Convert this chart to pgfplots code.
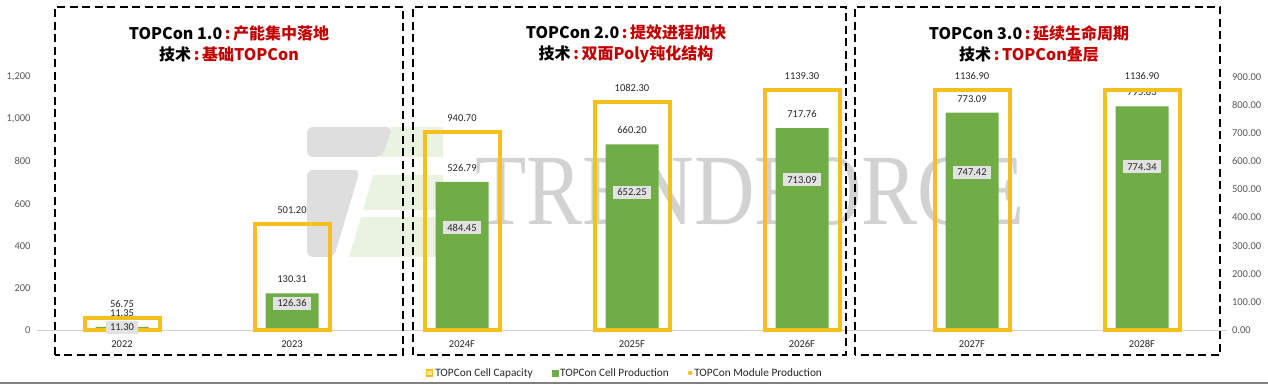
\documentclass[border=0pt]{standalone}
\usepackage{fontspec}
\setmainfont{Carlito}
\newfontfamily\cjk{Noto Sans CJK SC}
\newfontfamily\wmfont{Liberation Serif}
\usepackage{pgfplots}
\pgfplotsset{compat=1.18}
\definecolor{capY}{RGB}{245,192,30}
\definecolor{prodG}{RGB}{112,173,71}
\definecolor{lblGray}{RGB}{226,226,226}
\definecolor{tRed}{RGB}{192,0,0}
\definecolor{tickC}{RGB}{89,89,89}
\definecolor{wm}{RGB}{210,210,210}
\definecolor{wmL}{RGB}{222,222,222}
\definecolor{wmG}{RGB}{234,242,226}
\definecolor{txt}{RGB}{38,38,38}

\begin{document}
\begin{tikzpicture}[x=1pt,y=1pt]
\useasboundingbox (0,0) rectangle (1268,385);
% watermark logo
\fill[wmG] (390,258) -- (443,258) -- (443,228) -- (380,228) -- cycle;
\fill[wmL, rounded corners=6pt] (307,258) -- (392,258) -- (382,228) -- (307,228) -- cycle;
\fill[wmL, rounded corners=6pt] (307,215) -- (360,215) -- (334,128) -- (307,128) -- cycle;
\fill[wmG] (373,210) -- (443,210) -- (443,175) -- (363,175) -- cycle;
\fill[wmG] (361,168) -- (443,168) -- (443,128) -- (349,128) -- cycle;
% watermark text
\node[text=wm, font=\wmfont\fontsize{101}{101}\selectfont, xscale=0.83, anchor=center] at (750,193) {TRENDFORCE};

% right axis: cell production
\begin{axis}[
  at={(37pt,55pt)}, anchor=south west, scale only axis,
  width=1190pt, height=253pt,
  xmin=-0.5, xmax=6.5, ymin=0, ymax=900,
  clip=false,
  axis line style={draw=none},
  major tick length=0pt,
  xtick=\empty,
  ytick={0,100,...,900},
  ytick pos=right,
  yticklabel pos=right,
  yticklabel style={font=\fontsize{10.5}{12}\selectfont, text=tickC, xshift=1.5pt,
    /pgf/number format/.cd, fixed, fixed zerofill, precision=2, 1000 sep={}, assume math mode=true},
]
\draw[gray!35, line width=0.8pt] (axis cs:-0.5,0) -- (axis cs:6.5,0);
\addplot[ybar, bar width=53pt, bar shift=0pt, fill=prodG, draw=none,
  nodes near coords={\pgfmathprintnumber[fixed,fixed zerofill,precision=2,1000 sep={},assume math mode=true]{\pgfplotspointmeta}},
  every node near coord/.append style={font=\fontsize{10.5}{12}\selectfont, text=txt, anchor=center, yshift=14pt}]
  coordinates {(0,11.35) (1,130.31) (2,526.79) (3,660.20) (4,717.76) (5,773.09) (6,795.83)};
\end{axis}

% left axis: cell capacity, module production
\begin{axis}[
  at={(37pt,55pt)}, anchor=south west, scale only axis,
  width=1190pt, height=253pt,
  xmin=-0.5, xmax=6.5, ymin=0, ymax=1200,
  clip=false,
  axis line style={draw=none},
  major tick length=0pt,
  xtick={0,...,6},
  xticklabels={2022,2023,2024F,2025F,2026F,2027F,2028F},
  xtick pos=bottom,
  xticklabel style={font=\fontsize{10.5}{12}\selectfont, text=txt, yshift=-7pt},
  ytick={0,200,...,1200},
  ytick pos=left,
  yticklabel style={font=\fontsize{10.5}{12}\selectfont, text=tickC, xshift=-3pt,
    /pgf/number format/.cd, 1000 sep={,}, assume math mode=true},
  legend style={at={(0.494,-0.17)}, anchor=center, draw=none, fill=none,
    font=\fontsize{11.3}{13}\selectfont, text=txt,
    /tikz/every even column/.append style={column sep=17pt}},
  legend columns=3,
  legend cell align=left,
]
\addplot[ybar, bar width=75pt, bar shift=0pt, draw=capY, line width=4pt, fill=none,
  legend image code/.code={\draw[capY, fill=capY!45, line width=1.5pt] (0pt,-3pt) rectangle (6pt,3pt);},
  nodes near coords={\pgfmathprintnumber[fixed,fixed zerofill,precision=2,1000 sep={},assume math mode=true]{\pgfplotspointmeta}},
  every node near coord/.append style={font=\fontsize{10.5}{12}\selectfont, text=txt, anchor=center, yshift=14pt}]
  coordinates {(0,56.75) (1,501.20) (2,940.70) (3,1082.30) (4,1139.30) (5,1136.90) (6,1136.90)};
\addlegendentry{TOPCon Cell Capacity}
\addlegendimage{legend image code/.code={\fill[prodG] (0pt,-3pt) rectangle (6pt,3pt);}}
\addlegendentry{TOPCon Cell Production}
\addplot[only marks, mark=*, mark size=1.5pt, color=capY,
  legend image code/.code={\fill[capY] (3pt,0pt) circle (2pt);},
  nodes near coords={\pgfmathprintnumber[fixed,fixed zerofill,precision=2,1000 sep={},assume math mode=true]{\pgfplotspointmeta}},
  every node near coord/.append style={font=\fontsize{10.5}{12}\selectfont, text=txt, fill=lblGray, anchor=center, inner xsep=4pt, inner ysep=3pt}]
  coordinates {(0,11.30) (1,126.36) (2,484.45) (3,652.25) (4,713.09) (5,747.42) (6,774.34)};
\addlegendentry{TOPCon Module Production}
\end{axis}

% panels
\begin{scope}[line width=1.6pt, dash pattern=on 8pt off 4.5pt]
\draw (55,30) rectangle (403,378);
\draw (413,30) rectangle (846,378);
\draw (855,30) rectangle (1220,378);
\end{scope}
\begin{scope}[every node/.style={font=\cjk\bfseries\fontsize{16}{21}\selectfont, align=center, anchor=center}]
\node at (229,341) {TOPCon 1.0\textcolor{tRed}{\,:\,产能集中落地}\\技术\textcolor{tRed}{\,:\,基础TOPCon}};
\node at (626,341) {TOPCon 2.0\textcolor{tRed}{\,:\,提效进程加快}\\技术\textcolor{tRed}{\,:\,双面Poly钝化结构}};
\node at (1029,341) {TOPCon 3.0\textcolor{tRed}{\,:\,延续生命周期}\\技术\textcolor{tRed}{\,:\,TOPCon叠层}};
\end{scope}
\draw[gray, line width=1.5pt] (0,2) -- (1268,2);
\end{tikzpicture}
\end{document}
